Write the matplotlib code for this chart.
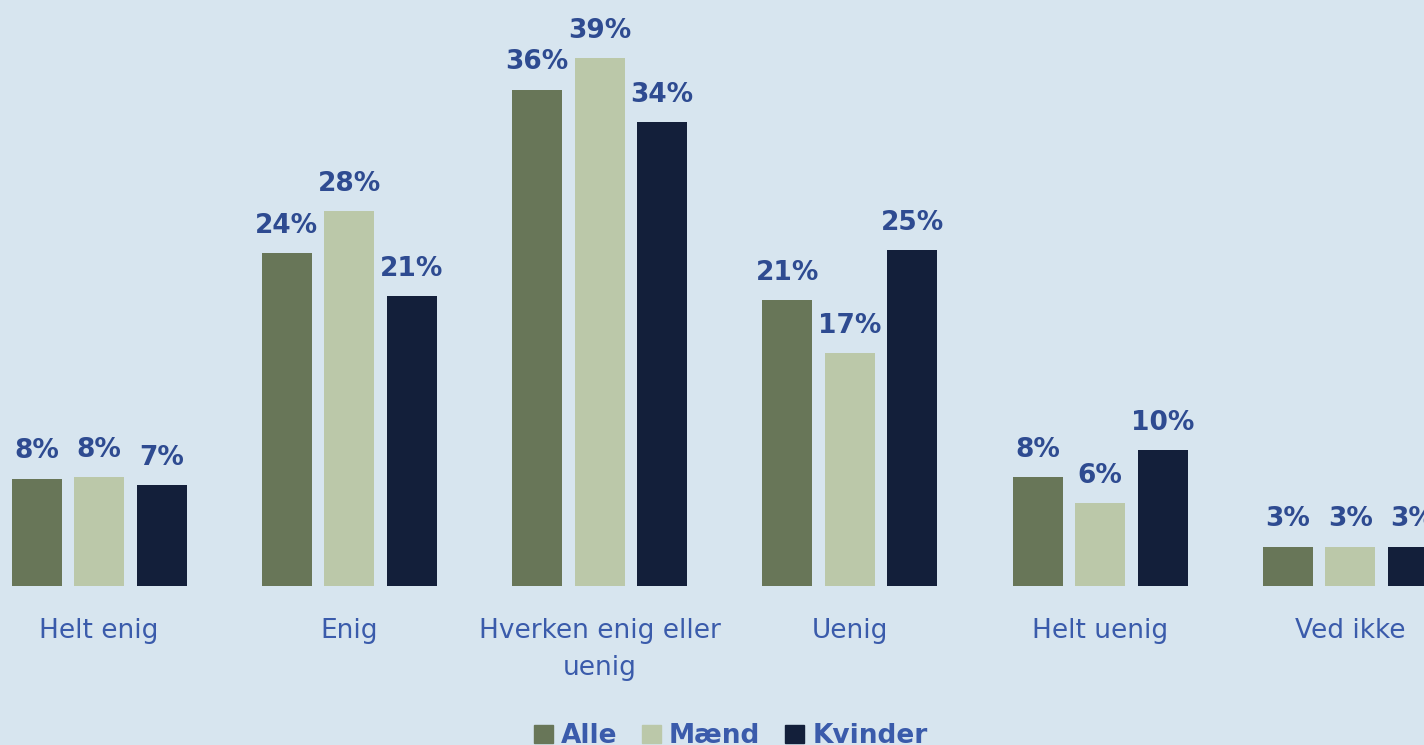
import matplotlib.pyplot as plt
import numpy as np
from matplotlib.patches import Patch

categories = ['Helt enig', 'Enig', 'Hverken enig eller\nuenig', 'Uenig', 'Helt uenig', 'Ved ikke']
series = ['Alle', 'Mænd', 'Kvinder']
alle = [7.9, 24.5, 36.5, 21.0, 8.0, 2.9]
maend = [8.0, 27.6, 38.8, 17.1, 6.1, 2.9]
kvinder = [7.4, 21.3, 34.1, 24.7, 10.0, 2.9]

colors = ['#687658', '#bbc8a9', '#131f3a']
bg = '#d7e5ef'
label_col = '#2e4b91'
cat_col = '#3a5bab'

plt.rcParams['font.family'] = ['DejaVu Sans']

fig = plt.figure(figsize=(14.24, 7.45), dpi=100, facecolor=bg)
ax = fig.add_axes([0, 0.2134, 1, 0.7866])
ax.set_facecolor(bg)

x = np.arange(len(categories))
width = 0.2
offset = 0.25

for i, (name, vals) in enumerate(zip(series, [alle, maend, kvinder])):
    pos = x + (i - 1) * offset
    bars = ax.bar(pos, vals, width, color=colors[i], label=name)
    for b, v in zip(bars, vals):
        ax.annotate('%d%%' % round(v), (b.get_x() + b.get_width() / 2, v),
                    xytext=(0, 14.5), textcoords='offset points',
                    ha='center', va='baseline', fontsize=19, fontweight='bold',
                    color=label_col)

ax.set_xlim(-0.396, 5.294)
ax.set_ylim(0, 43.09)
ax.set_xticks(x)
ax.set_xticklabels(categories, fontsize=19, color=cat_col, linespacing=1.55)
ax.tick_params(axis='x', length=0, pad=23)
ax.set_yticks([])
for s in ax.spines.values():
    s.set_visible(False)

handles = [Patch(color=c) for c in colors]
fig.legend(handles, series, loc='center', bbox_to_anchor=(0.513, 0.012),
           ncol=3, frameon=False, handlelength=0.72, handleheight=0.7,
           handletextpad=0.3, columnspacing=0.95,
           prop={'size': 19, 'weight': 'bold'}, labelcolor=cat_col)

plt.savefig('out.png', dpi=100, facecolor=bg)
